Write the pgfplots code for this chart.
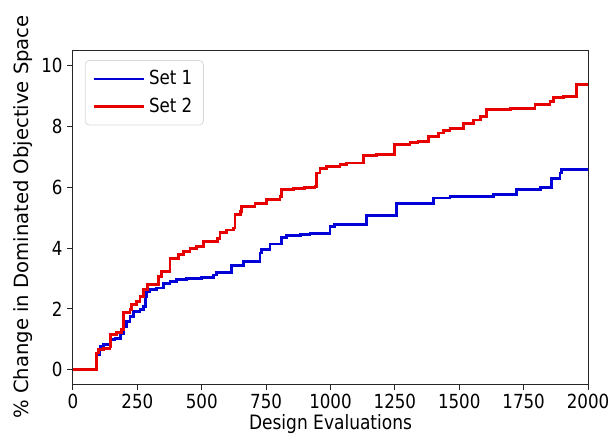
\documentclass[border=0pt]{standalone}
\usepackage{fontspec}
\setmainfont{DejaVu Sans}[FakeStretch=0.86]
\newfontfamily\ylfont{DejaVu Sans}
\usepackage{pgfplots}
\pgfplotsset{compat=1.18}
\definecolor{cblue}{RGB}{0,0,215}
\definecolor{cred}{RGB}{230,0,0}
\begin{document}
\fontsize{9.7pt}{11pt}\selectfont
\begin{tikzpicture}
\begin{axis}[
  scale only axis, width=257.5pt, height=167pt,
  xmin=0, xmax=2000, ymin=-0.47, ymax=10.52,
  xtick={0,250,...,2000}, ytick={0,2,...,10},
  tick align=outside, major tick length=3pt,
  xtick pos=bottom, ytick pos=left,
  axis line style={line width=0.5pt, black!85},
  tick style={line width=0.5pt, black!85},
  /pgf/number format/assume math mode=true,
  /pgf/number format/1000 sep={},
  ticklabel style={font=\fontsize{9.7pt}{11pt}\selectfont},
  xticklabel style={inner sep=2pt},
  yticklabel style={inner sep=2pt},
  xlabel={Design Evaluations},
  ylabel={\% Change in Dominated Objective Space},
  xlabel style={font=\fontsize{9.9pt}{11pt}\selectfont, yshift=2.5pt},
  ylabel style={font=\ylfont\fontsize{9.8pt}{11pt}\selectfont, yshift=-1pt},
  legend style={at={(0.023,0.97)}, anchor=north west, draw=black!15, rounded corners=2pt,
    font=\fontsize{9.7pt}{11pt}\selectfont, inner xsep=3.5pt, inner ysep=3pt, row sep=1pt},
  legend cell align=left,
  legend image code/.code={\draw[#1] (0pt,0pt) -- (21pt,0pt); \path (0pt,0pt) -- (25pt,0pt);},
]
\addplot[const plot mark left, cblue, line width=1.4pt] coordinates {
(0,0) (89,0) (90,0.4) (92,0.5) (105,0.77) (118,0.82) (144,0.99) (163,1.04)
(183,1.2) (196,1.42) (208,1.59) (221,1.75) (234,1.92) (260,1.97) (273,2.08)
(280,2.41) (286,2.58) (299,2.63) (325,2.69) (351,2.85) (377,2.9) (403,2.98)
(441,3.01) (500,3.03) (545,3.12) (558,3.2) (616,3.42) (661,3.56) (726,3.84)
(733,3.95) (765,4.14) (810,4.36) (830,4.41) (882,4.44) (920,4.49) (998,4.71)
(1017,4.77) (1140,5.07) (1257,5.48) (1399,5.65) (1464,5.7) (1632,5.76)
(1723,5.92) (1814,6.0) (1859,6.3) (1891,6.47) (1898,6.58) (2000,6.63)
};
\addlegendentry{Set 1}
\addplot[const plot mark left, cred, line width=1.4pt] coordinates {
(0,0) (89,0) (90,0.45) (92,0.55) (98,0.66) (118,0.71) (144,0.77) (146,1.15)
(170,1.23) (189,1.32) (196,1.87) (221,1.97) (228,2.14) (247,2.25) (260,2.41)
(273,2.63) (289,2.80) (331,3.07) (344,3.24) (377,3.67) (409,3.78) (428,3.89)
(454,4.0) (480,4.06) (506,4.22) (560,4.33) (571,4.52) (597,4.6) (623,4.66)
(629,5.1) (649,5.21) (655,5.37) (707,5.48) (752,5.59) (804,5.7) (810,5.92)
(856,5.97) (900,6.0) (940,6.03) (946,6.47) (959,6.63) (985,6.69) (1037,6.74)
(1063,6.8) (1127,7.04) (1180,7.08) (1250,7.4) (1309,7.48) (1340,7.52)
(1380,7.68) (1419,7.79) (1440,7.88) (1464,7.95) (1516,8.11) (1555,8.22)
(1581,8.33) (1606,8.57) (1700,8.6) (1794,8.72) (1852,8.83) (1865,8.97)
(1905,9.0) (1956,9.38) (2000,9.42)
};
\addlegendentry{Set 2}
\end{axis}
\pgfresetboundingbox
\path (-36.5pt,-28pt) rectangle (270pt,192pt);
\end{tikzpicture}
\end{document}
